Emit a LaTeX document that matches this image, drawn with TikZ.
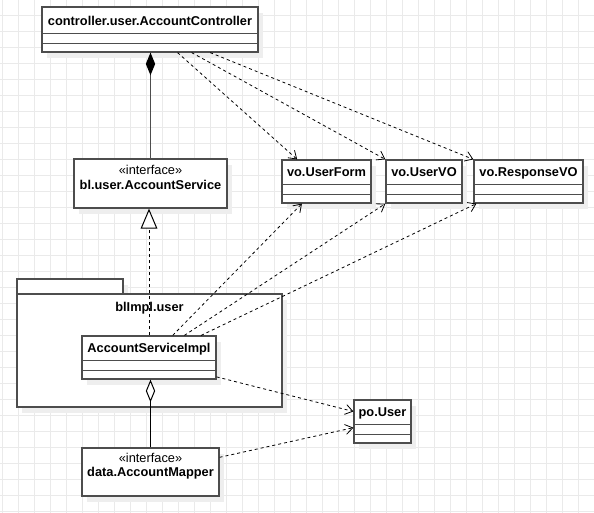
\documentclass[tikz,border=0pt]{standalone}
\usepackage{fontspec}
\setmainfont{Liberation Sans}
\usetikzlibrary{arrows.meta,shadows}
\definecolor{boxline}{RGB}{77,77,77}
\definecolor{gridgray}{RGB}{234,234,234}
\definecolor{shade}{RGB}{238,238,238}
\begin{document}
\begin{tikzpicture}[x=0.75pt,y=-0.75pt,
    gridline/.style={gridgray,line width=0.75pt},
    cls/.style={draw=boxline,line width=0.9pt,fill=white,inner sep=0pt,
      drop shadow={shadow xshift=4pt,shadow yshift=-4.5pt,fill=shade,opacity=1}},
    title/.style={font=\fontsize{9.6}{11}\selectfont\bfseries,inner sep=0pt,anchor=base},
    stereo/.style={font=\fontsize{9.6}{11}\selectfont,inner sep=0pt,anchor=base},
    dep/.style={black,line width=0.6pt,dash pattern=on 2.25pt off 2.25pt,
      -{Straight Barb[length=5.5pt,width=7.5pt]}},
  ]
  \useasboundingbox (0,0) rectangle (594,513);

  % Grid
  \foreach \gx in {2,18,...,594} \draw[gridline] (\gx,0) -- (\gx,513);
  \foreach \gy in {0,16,...,512} \draw[gridline] (0,\gy) -- (594,\gy);

  % Package
  \node[cls,minimum width=79.5pt,minimum height=11.25pt] (pkgtab) at (70,286.5) {};
  \node[cls,minimum width=198.75pt,minimum height=84.75pt] (pkg) at (149.5,350.5) {};
  \node[title] (pkgname) at ([yshift=-13.3pt]pkg.north) {blImpl.user};

  % Classes
  \node[cls,minimum width=162pt,minimum height=33.75pt] (ctrl) at (150,29.5) {};
  \node[cls,minimum width=114.75pt,minimum height=36.75pt] (svc) at (150.5,183.5) {};
  \node[cls,minimum width=66.75pt,minimum height=32.25pt] (form) at (326.5,181.5) {};
  \node[cls,minimum width=57pt,minimum height=32.25pt] (uservo) at (424,181.5) {};
  \node[cls,minimum width=81.75pt,minimum height=32.25pt] (resp) at (528.5,181.5) {};
  \node[cls,minimum width=100.5pt,minimum height=32.25pt] (impl) at (149,357.5) {};
  \node[cls,minimum width=102.75pt,minimum height=36pt] (mapper) at (150.5,472) {};
  \node[cls,minimum width=42.75pt,minimum height=32.25pt] (pouser) at (382.5,421.5) {};

  % Compartments
  \foreach \b in {ctrl,form,uservo,resp,impl,pouser} {
    \draw[boxline,line width=0.9pt] ([yshift=14.25pt]\b.south west) -- ([yshift=14.25pt]\b.south east);
    \draw[boxline,line width=0.9pt] ([yshift=6.75pt]\b.south west) -- ([yshift=6.75pt]\b.south east);
  }

  % Names
  \node[title] (ctrlname) at ([yshift=-14pt]ctrl.north) {controller.user.AccountController};
  \node[stereo] (svcstereo) at ([yshift=-12pt]svc.north) {«interface»};
  \node[title] (svcname) at ([yshift=-23.25pt]svc.north) {bl.user.AccountService};
  \node[title] (formname) at ([yshift=-13pt]form.north) {vo.UserForm};
  \node[title] (uservoname) at ([yshift=-13pt]uservo.north) {vo.UserVO};
  \node[title] (respname) at ([yshift=-13pt]resp.north) {vo.ResponseVO};
  \node[title] (implname) at ([yshift=-13pt]impl.north) {AccountServiceImpl};
  \node[stereo] (mapperstereo) at ([yshift=-11.5pt]mapper.north) {«interface»};
  \node[title] (mappername) at ([yshift=-22pt]mapper.north) {data.AccountMapper};
  \node[title] (pousername) at ([yshift=-12.5pt]pouser.north) {po.User};

  % Composition, realization, aggregation
  \draw[boxline,line width=1pt,-{Diamond[length=17pt,width=7pt,color=black]}]
    (svc.north) -- (svc.north |- ctrl.south);
  \draw[black,line width=0.75pt,dash pattern=on 2.25pt off 2.25pt,
    -{Triangle[length=15pt,width=12.5pt,fill=white,line width=0.75pt]}]
    (impl.north) -- (impl.north |- svc.south);
  \draw[black,line width=0.75pt,-{Diamond[length=17pt,width=7pt,fill=white,line width=0.75pt]}]
    (mapper.north) -- (mapper.north |- impl.south);

  % Dependencies
  \draw[dep] (ctrl.-40) -- (form.143);
  \draw[dep] (ctrl.-29) -- (uservo.north west);
  \draw[dep] (ctrl.-21.5) -- (resp.north west);
  \draw[dep] (impl.43) -- (form.222.5);
  \draw[dep] (impl.32.3) -- (uservo.south west);
  \draw[dep] (impl.23.7) -- (resp.203);
  \draw[dep] (impl.-16.2) -- (pouser.161.6);
  \draw[dep] (mapper.12.4) -- (pouser.192.8);
\end{tikzpicture}
\end{document}
